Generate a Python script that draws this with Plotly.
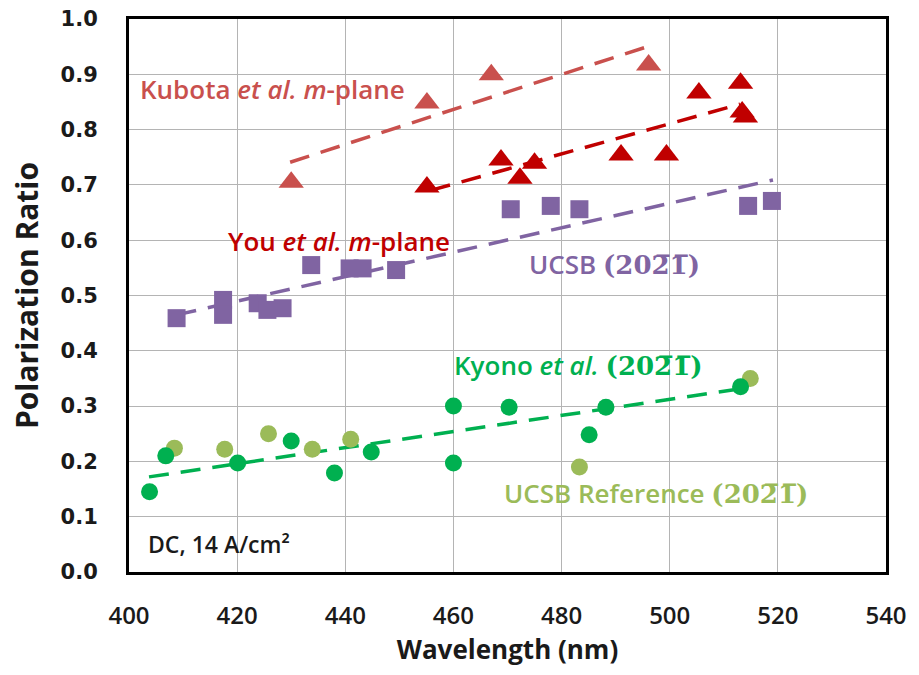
import plotly.graph_objects as go

# ---- data ----
kubota_x = [430.0, 455.1, 467.0, 496.1]
kubota_y = [0.705, 0.848, 0.899, 0.917]
kubota_fit_x = [429.8, 496.2]
kubota_fit_y = [0.741, 0.951]

you_x = [455.1, 468.8, 472.3, 475.0, 491.0, 499.4, 505.4, 513.1, 513.4, 514.0]
you_y = [0.696, 0.745, 0.712, 0.739, 0.754, 0.754, 0.866, 0.884, 0.832, 0.823]
you_fit_x = [455.8, 513.0]
you_fit_y = [0.690, 0.846]

ucsb_x = [408.8, 417.4, 417.4, 423.8, 425.6, 428.4, 433.7, 440.8, 443.2, 449.4,
          470.6, 478.0, 483.3, 514.5, 518.9]
ucsb_y = [0.459, 0.492, 0.465, 0.486, 0.474, 0.477, 0.555, 0.549, 0.549, 0.546,
          0.656, 0.662, 0.656, 0.662, 0.671]
ucsb_fit_x = [408.8, 519.1]
ucsb_fit_y = [0.465, 0.709]

kyono_x = [403.8, 406.8, 420.1, 430.0, 438.0, 444.8, 460.0, 460.0, 470.3, 485.1, 488.2, 513.1]
kyono_y = [0.145, 0.210, 0.197, 0.237, 0.179, 0.217, 0.300, 0.197, 0.298, 0.248, 0.298, 0.335]
kyono_fit_x = [403.7, 512.2]
kyono_fit_y = [0.172, 0.330]

ref_x = [408.4, 417.7, 425.8, 433.9, 441.0, 483.3, 514.9]
ref_y = [0.224, 0.222, 0.250, 0.222, 0.240, 0.190, 0.350]

x_ticks = [400, 420, 440, 460, 480, 500, 520, 540]
y_ticks = [0.0, 0.1, 0.2, 0.3, 0.4, 0.5, 0.6, 0.7, 0.8, 0.9, 1.0]

# ---- colours ----
C_KUB = "#C9504D"
C_YOU = "#C00000"
C_UCSB = "#8064A2"
C_KYO = "#00B050"
C_REF = "#9BBB59"

DASH = "20px,12px"
PLANE = '<span style="font-family:DejaVu Serif">(202\u03051\u0305)</span>'

fig = go.Figure()

def fit(x, y, c):
    fig.add_trace(go.Scatter(x=x, y=y, mode="lines",
                             line=dict(color=c, width=3.5, dash=DASH),
                             hoverinfo="skip", showlegend=False))

def pts(x, y, c, sym, size):
    fig.add_trace(go.Scatter(x=x, y=y, mode="markers",
                             marker=dict(color=c, symbol=sym, size=size, line=dict(width=0)),
                             showlegend=False))

fit(kubota_fit_x, kubota_fit_y, C_KUB)
fit(you_fit_x, you_fit_y, C_YOU)
fit(ucsb_fit_x, ucsb_fit_y, C_UCSB)
fit(kyono_fit_x, kyono_fit_y, C_KYO)

pts(ucsb_x, ucsb_y, C_UCSB, "square", 18)
pts(ref_x, ref_y, C_REF, "circle", 17)
pts(kyono_x, kyono_y, C_KYO, "circle", 17)
pts(kubota_x, kubota_y, C_KUB, "triangle-up", 22)
pts(you_x, you_y, C_YOU, "triangle-up", 22)

FONT = "Open Sans"
def label(x, y, text, color, size=26):
    fig.add_annotation(x=x, y=y, xref="x", yref="y", text=text, showarrow=False,
                       xanchor="left", yanchor="middle",
                       font=dict(family=FONT, size=size, color=color, weight=600))

label(401.7, 0.873, "Kubota <i>et al.</i> <i>m</i>-plane", C_KUB)
label(418.0, 0.598, "You <i>et al.</i> <i>m</i>-plane", C_YOU)
label(473.6, 0.557, "UCSB " + PLANE, C_UCSB)
label(459.7, 0.374, "Kyono <i>et al.</i> " + PLANE, C_KYO)
label(468.9, 0.143, "UCSB Reference " + PLANE, C_REF)
label(403.2, 0.050, "DC, 14 A/cm\u00b2", "#1a1a1a", 23)

fig.update_layout(
    width=919, height=675,
    margin=dict(l=129, r=24, t=19, b=103),
    paper_bgcolor="white", plot_bgcolor="white",
    showlegend=False,
)
fig.update_xaxes(
    range=[400, 540], tickvals=x_ticks, ticktext=[str(v) for v in x_ticks],
    showgrid=True, gridcolor="#B4B4B4", gridwidth=1, zeroline=False,
    showline=True, linecolor="black", linewidth=3, mirror=True,
    ticks="", ticklabelstandoff=20,
    tickfont=dict(family=FONT, size=24, color="#1a1a1a", weight=600),
    title=dict(text="Wavelength (nm)", standoff=10,
               font=dict(family=FONT, size=26, color="#1a1a1a", weight=700)),
)
fig.update_yaxes(
    range=[0, 1.0], tickvals=y_ticks, ticktext=[f"{v:.1f}" for v in y_ticks],
    showgrid=True, gridcolor="#B4B4B4", gridwidth=1, zeroline=False,
    showline=True, linecolor="black", linewidth=3, mirror=True,
    ticks="", ticklabelstandoff=24, automargin=False,
    tickfont=dict(family="DejaVu Sans", size=21, color="#1a1a1a", weight="bold"),
    title=dict(text="Polarization Ratio", standoff=14,
               font=dict(family=FONT, size=30, color="#1a1a1a", weight=700)),
)

# remove the default 8px page margin so the figure fills the window exactly
fig.write_html("out.html", config={"displayModeBar": False},
               post_script="document.body.style.margin='0';")
